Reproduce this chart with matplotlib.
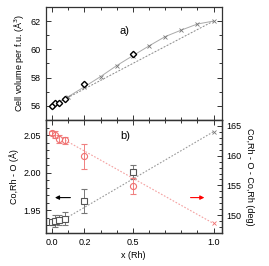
import matplotlib
matplotlib.use("Agg")
import matplotlib.pyplot as plt
import numpy as np

plt.rcParams['font.family'] = ['Liberation Sans', 'DejaVu Sans']
plt.rcParams['font.size'] = 6.5

# ---- data ----
x_exp = [0.0, 0.02, 0.04, 0.08, 0.2, 0.5]
vol_exp = [56.0, 56.17, 56.23, 56.5, 57.55, 59.68]

x_calc = [0.0, 0.1, 0.2, 0.3, 0.4, 0.5, 0.6, 0.7, 0.8, 0.9, 1.0]
vol_calc = [56.0, 56.65, 57.35, 58.07, 58.85, 59.55, 60.24, 60.9, 61.36, 61.79, 62.0]

vegard_x = [0.0, 1.0]
vegard_v = [56.0, 62.0]

bond = [1.934, 1.936, 1.937, 1.939, 1.963, 2.001]
bond_err = [0.003, 0.008, 0.007, 0.009, 0.016, 0.009]
angle = [163.8, 163.5, 162.8, 162.6, 159.9, 154.9]
angle_err = [0.4, 0.6, 0.6, 0.6, 2.1, 1.3]

bond_line_x = [0.08, 1.0]
bond_line_y = [1.939, 2.0545]
angle_line_x = [0.08, 1.0]
angle_line_y = [162.6, 148.6]

xticks = [0.0, 0.2, 0.5, 1.0]
xticklabels = ['0.0', '0.2', '0.5', '1.0']

fig = plt.figure(figsize=(2.69, 2.66), dpi=100)
L, R = 0.170, 0.824
ax1 = fig.add_axes([L, 0.549, R - L, 0.974 - 0.549])
ax2 = fig.add_axes([L, 0.124, R - L, 0.549 - 0.124])
ax3 = ax2.twinx()

spc = '#333333'
for ax in (ax1, ax2, ax3):
    for s in ax.spines.values():
        s.set_color(spc)
        s.set_linewidth(0.9)

# top panel
ax1.plot(vegard_x, vegard_v, ls=(0, (2, 1.5)), color='#888888', lw=0.7)
ax1.plot(x_calc, vol_calc, ls='-', color='#aaaaaa', lw=0.7,
         marker='x', ms=3, mec='#777777', mew=0.6)
ax1.plot(x_exp, vol_exp, ls='none', marker='D', ms=3.2, mfc='white',
         mec='black', mew=1.0)
ax1.set_xlim(-0.04, 1.05)
ax1.set_ylim(55, 63)
ax1.set_yticks([56, 58, 60, 62])
ax1.set_yticks(np.arange(55, 63.1, 1), minor=True)
ax1.set_xticks(xticks)
ax1.set_xticks(np.arange(0, 1.01, 0.1), minor=True)
ax1.set_xticklabels([])
ax1.tick_params(which='both', direction='in', top=True, right=True, bottom=True,
                color=spc, width=0.7)
ax1.tick_params(which='major', length=3.5)
ax1.tick_params(which='minor', length=2)
ax1.set_ylabel('Cell volume per f.u. (Å$^3$)', labelpad=3)
ax1.text(0.45, 61.3, 'a)', ha='center', va='center', fontsize=8)

# bottom panel
ax2.plot(bond_line_x, bond_line_y, ls=(0, (1.5, 1.5)), color='#999999', lw=0.8)
ax2.plot([1.0], [bond_line_y[1]], ls='none', marker='x', ms=3, mec='#777777', mew=0.6)
ax2.errorbar(x_exp, bond, yerr=bond_err, ls='none', marker='s', ms=3.8,
             mfc='white', mec='#555555', mew=0.8, ecolor='#777777',
             elinewidth=0.7, capsize=2, capthick=0.7)
ax3.plot(angle_line_x, angle_line_y, ls=(0, (1.5, 1.5)), color='#f4a0a0', lw=0.8)
ax3.plot([1.0], [angle_line_y[1]], ls='none', marker='x', ms=3, mec='#f07070', mew=0.6)
ax3.errorbar(x_exp, angle, yerr=angle_err, ls='none', marker='o', ms=4.4,
             mfc='none', mec='#f07070', mew=0.8, ecolor='#f08080',
             elinewidth=0.7, capsize=2, capthick=0.7)

ax2.set_xlim(-0.04, 1.05)
ax2.set_ylim(1.92, 2.07)
ax3.set_ylim(147, 166)
ax2.set_xticks(xticks)
ax2.set_xticklabels(xticklabels)
ax2.set_xticks(np.arange(0, 1.01, 0.1), minor=True)
ax2.set_yticks([1.95, 2.00, 2.05])
ax2.set_yticklabels(['1.95', '2.00', '2.05'])
ax2.set_yticks(np.arange(1.92, 2.071, 0.01), minor=True)
ax3.set_yticks([150, 155, 160, 165])
ax3.set_yticks(np.arange(147, 166.1, 1), minor=True)
ax2.tick_params(which='both', direction='in', top=True, bottom=True, color=spc, width=0.7)
ax3.tick_params(which='both', direction='in', color=spc, width=0.7)
for ax in (ax2, ax3):
    ax.tick_params(which='major', length=3.5)
    ax.tick_params(which='minor', length=2)
ax2.set_ylabel('Co,Rh - O (Å)', labelpad=3)
ax3.set_ylabel('Co,Rh - O - Co,Rh (deg)', rotation=270, labelpad=9)
ax2.set_xlabel('x (Rh)', labelpad=3)
ax2.text(0.45, 2.049, 'b)', ha='center', va='center', fontsize=8)

ax2.annotate('', xy=(0.0, 1.967), xytext=(0.13, 1.967),
             arrowprops=dict(arrowstyle='-|>', color='black', lw=0.8,
                             mutation_scale=6))
ax2.annotate('', xy=(0.96, 1.967), xytext=(0.84, 1.967),
             arrowprops=dict(arrowstyle='-|>', color='red', lw=0.8,
                             mutation_scale=6))

fig.savefig('out.png', dpi=100)
